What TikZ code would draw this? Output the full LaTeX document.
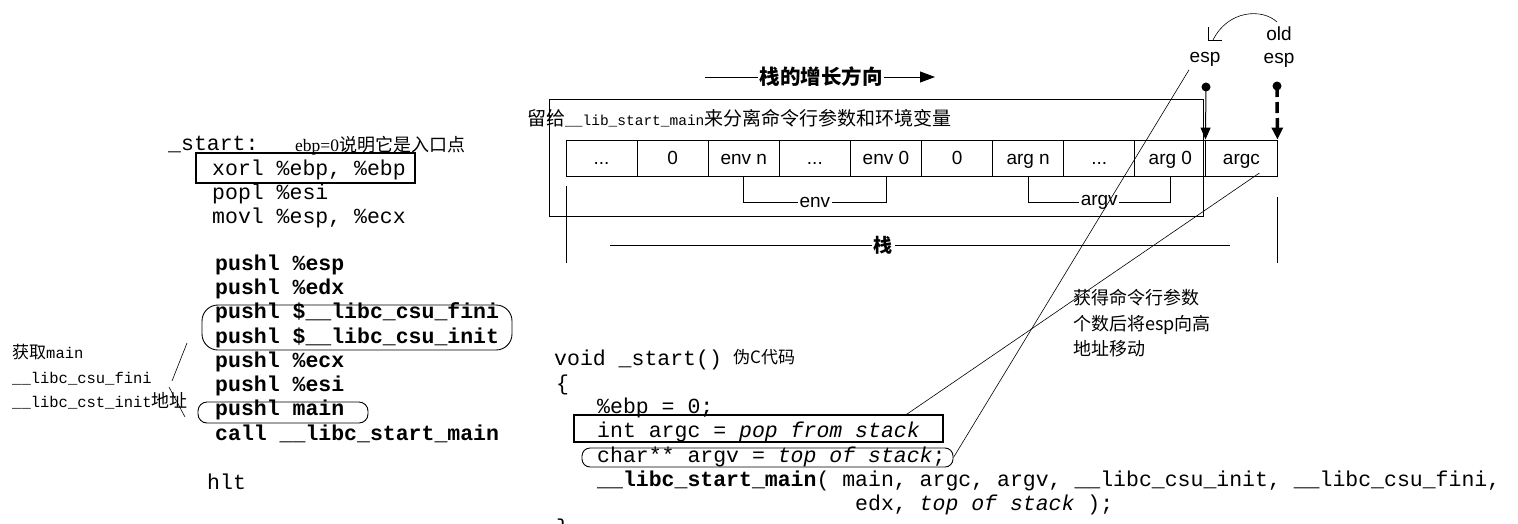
\documentclass[tikz,border=0pt]{standalone}
\usepackage{fontspec}
\setmonofont{Liberation Mono}
\newfontfamily\cjk{Noto Sans CJK SC}
\newfontfamily\hv{Liberation Sans}
\newfontfamily\tms{Liberation Serif}
\usetikzlibrary{arrows.meta,calc}

\newcommand\codefont{\ttfamily\fontsize{21.5}{24}\selectfont}
\newcommand\zhs[2]{{\cjk\fontsize{#1}{#1}\selectfont #2}}
\newcommand\asf[2]{{\ttfamily\fontsize{#1}{#1}\selectfont #2}}

\tikzset{
  code/.style={anchor=base west, inner sep=0pt, font=\codefont},
  bcode/.style={anchor=base west, inner sep=0pt, font=\codefont\bfseries},
  note/.style={anchor=base west, inner sep=0pt},
  cell/.style={draw, line width=0.9pt, minimum width=71.1pt, minimum height=36pt,
    inner sep=0pt, text height=14pt, text depth=2pt, font=\hv\fontsize{19}{19}\selectfont},
  lab/.style={fill=white, inner sep=1.5pt, font=\hv\fontsize{19}{19}\selectfont},
  sflab/.style={anchor=base, inner sep=0pt, font=\hv\fontsize{19}{19}\selectfont},
  thin/.style={line width=0.6pt},
  box/.style={draw, line width=1.1pt, inner sep=0pt},
  dot/.style={circle, fill, inner sep=0pt, minimum size=9pt},
}

\begin{document}
\begin{tikzpicture}[x=1pt,y=-1pt]
\useasboundingbox (0,0) rectangle (1518,523);
\clip (0,0) rectangle (1518,523);

% ---------- left: assembly ----------
\node[code] (start) at (168,150) {\_start:};
\node[note] (ebpnote) at (295,151) {{\tms\fontsize{17.5}{17.5}\selectfont ebp=0}\zhs{18}{说明它是入口点}};
\node[code] (l1) at (212,175) {xorl \%ebp, \%ebp};
\node[code] (l2) at (212,199) {popl \%esi};
\node[code] (l3) at (212,223) {movl \%esp, \%ecx};
\node[bcode] (p1) at (215,270) {pushl \%esp};
\node[bcode] (p2) at (215,294) {pushl \%edx};
\node[bcode] (p3) at (215,318) {pushl \$\_\_libc\_csu\_fini};
\node[bcode] (p4) at (215,343) {pushl \$\_\_libc\_csu\_init};
\node[bcode] (p5) at (215,367) {pushl \%ecx};
\node[bcode] (p6) at (215,391) {pushl \%esi};
\node[bcode] (p7) at (215,415) {pushl main};
\node[bcode] (p8) at (215,440) {call \_\_libc\_start\_main};
\node[code] (hlt) at (207,489) {hlt};

\node[box, minimum width=219pt, minimum height=30pt] (xorlbox) at (305.5,168) {};
\node[box, line width=0.9pt, rounded corners=16pt, minimum width=310pt, minimum height=45pt] (csubox) at (357,327.5) {};
\node[box, line width=0.9pt, rounded corners=9pt, minimum width=170pt, minimum height=21pt] (mainbox) at (283,412.5) {};

\node[note] (g1) at (12,358) {\zhs{17}{获取}\asf{15.5}{main}};
\node[note] (g2) at (12,383) {\asf{15.5}{\_\_libc\_csu\_fini}};
\node[note] (g3) at (12,407) {\asf{15.5}{\_\_libc\_cst\_init}\zhs{18}{地址}};
\coordinate (u1) at (172,381); \coordinate (u2) at (187,343);
\coordinate (d1) at (169,387); \coordinate (d2) at (185,417);
\draw[thin] (u1) -- (u2);
\draw[thin] (d1) -- (d2);

% ---------- right top: stack ----------
\node[inner sep=1pt, font=\cjk\bfseries\fontsize{20.5}{20.5}\selectfont] (grow) at (821,77) {栈的增长方向};
\coordinate (gA) at (705,77); \coordinate (gB) at (935,77);
\draw[line width=0.8pt] (gA) -- (grow.west);
\draw[line width=0.8pt, -{Triangle[length=15pt,width=11pt]}] (grow.east) -- (gB);

\node[box, line width=1pt, minimum width=654pt, minimum height=117pt] (leave) at (876,157.5) {};
\node[note] (leavenote) at (527,125) {\zhs{19}{留给}\asf{14.5}{\_\_lib\_start\_main}\zhs{19}{来分离命令行参数和环境变量}};

\node[cell] (c1) at (601.55,158) {...};
\node[cell] (c2) at (672.65,158) {0};
\node[cell] (c3) at (743.75,158) {env n};
\node[cell] (c4) at (814.85,158) {...};
\node[cell] (c5) at (885.95,158) {env 0};
\node[cell] (c6) at (957.05,158) {0};
\node[cell] (c7) at (1028.15,158) {arg n};
\node[cell] (c8) at (1099.25,158) {...};
\node[cell] (c9) at (1170.35,158) {arg 0};
\node[cell] (c10) at (1241.45,158) {argc};

\draw[thin] (c3.south) |- node[lab,pos=0.75] (envlab) {env} ($(c5.south)+(0,26)$) -- (c5.south);
\draw[thin] (c7.south) |- node[lab,pos=0.75] (argvlab) {argv} ($(c9.south)+(0,26)$) -- (c9.south);

\coordinate (vL1) at (566,186); \coordinate (vL2) at (566,263);
\coordinate (vR1) at (1277,197); \coordinate (vR2) at (1277,263);
\draw[thin] (vL1) -- (vL2);
\draw[thin] (vR1) -- (vR2);

\coordinate (sL) at (610,245); \coordinate (sR) at (1230,245);
\draw[thin] (sL) -- (sR);
\node[fill=white, inner sep=2pt, font=\cjk\bfseries\fontsize{19}{19}\selectfont] (stk) at (883,245) {栈};

% esp pointers
\node[sflab] (esp) at (1205,62) {esp};
\node[sflab] (old) at (1279,40) {old};
\node[sflab] (oesp) at (1279,63) {esp};
\node[dot] (espdot) at (1206,87) {};
\node[dot] (oespdot) at (1277,86) {};
\draw[line width=1pt, -{Triangle[length=12pt,width=10pt]}] (espdot.center) -- (c10.north west);
\draw[line width=3.5pt, dash pattern=on 11pt off 5pt, -{Triangle[length=12pt,width=11pt]}] (oespdot.center) -- (c10.north east);

\coordinate (cvS) at (1277,22); \coordinate (cvE) at (1213,40);
\draw[thin] (cvS) .. controls (1262,8) and (1228,10) .. (cvE);
\coordinate (tk1) at (1208,27); \coordinate (tk2) at (1208,40); \coordinate (tk3) at (1222,40);
\draw[thin] (tk1) -- (tk2) -- (tk3);

% ---------- bottom: pseudo C ----------
\node[code] (v0) at (554,365) {void \_start()};
\node[note] (pseudo) at (733,363) {\zhs{17}{伪C代码}};
\node[code] (v1) at (556,390) {\{};
\node[code] (v2) at (597,413) {\%ebp = 0;};
\node[code] (v3) at (597,437) {int argc = \textit{pop from stack}};
\node[code] (v4) at (597,462) {char** argv = \textit{top of stack};};
\node[code] (v5) at (597,486) {\textbf{\_\_libc\_start\_main}( main, argc, argv, \_\_libc\_csu\_init, \_\_libc\_csu\_fini,};
\node[code] (v6) at (855,510) {edx, \textit{top of stack} );};
\node[code] (v7) at (556,534) {\}};

\node[box, minimum width=369pt, minimum height=27pt] (intbox) at (758.5,428.5) {};
\node[box, line width=0.9pt, rounded corners=8pt, minimum width=371pt, minimum height=19pt] (argvbox) at (767.5,457.5) {};

\node[note] (n1) at (1073,304) {\zhs{18}{获得命令行参数}};
\node[note] (n2) at (1073,330) {\zhs{18}{个数后将esp向高}};
\node[note] (n3) at (1073,355) {\zhs{18}{地址移动}};

\draw[thin] ([xshift=18pt,yshift=-15pt]c10.center) -- ([xshift=333pt]intbox.north west);
\draw[thin] ([xshift=-16pt,yshift=-11pt]esp.center) -- (argvbox.east);
\end{tikzpicture}
\end{document}
